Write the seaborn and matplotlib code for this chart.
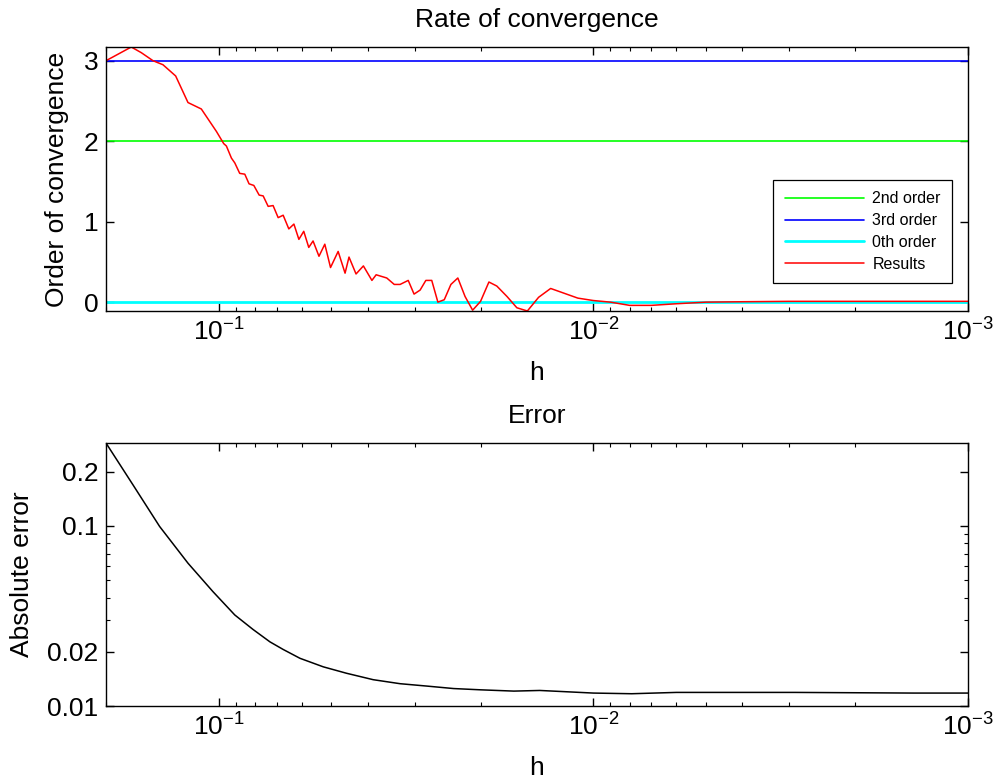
import numpy as np
import seaborn as sns
import matplotlib.pyplot as plt
from matplotlib.ticker import LogLocator, NullFormatter, FixedLocator, FixedFormatter

# --- data ---
h_rate = [0.2000, 0.1910, 0.1712, 0.1610, 0.1498, 0.1409, 0.1303, 0.1208, 0.1113, 0.1014,
          0.0970, 0.0954, 0.0925, 0.0906, 0.0879, 0.0852, 0.0830, 0.0806, 0.0780, 0.0761,
          0.0738, 0.0716, 0.0694, 0.0673, 0.0650, 0.0630, 0.0611, 0.0593, 0.0575, 0.0560,
          0.0540, 0.0521, 0.0503, 0.0480, 0.0460, 0.0449, 0.0430, 0.0411, 0.0390, 0.0380,
          0.0356, 0.0340, 0.0328, 0.0312, 0.0301, 0.0290, 0.0280, 0.0270, 0.0260, 0.0250,
          0.0240, 0.0230, 0.0220, 0.0210, 0.0200, 0.0190, 0.0181, 0.0170, 0.0160, 0.0150,
          0.0140, 0.0130, 0.0110, 0.0100, 0.0090, 0.0080, 0.0070, 0.0060, 0.0050, 0.0040,
          0.0030, 0.0020, 0.0010]
order_rate = [3.00, 3.05, 3.17, 3.10, 3.00, 2.95, 2.81, 2.48, 2.40, 2.12,
              1.97, 1.94, 1.79, 1.73, 1.60, 1.59, 1.47, 1.45, 1.33, 1.32,
              1.19, 1.20, 1.05, 1.08, 0.91, 0.97, 0.78, 0.88, 0.68, 0.76,
              0.57, 0.72, 0.43, 0.63, 0.36, 0.56, 0.35, 0.45, 0.27, 0.34,
              0.30, 0.22, 0.22, 0.27, 0.10, 0.15, 0.27, 0.27, 0.00, 0.03,
              0.22, 0.30, 0.07, -0.10, 0.01, 0.25, 0.20, 0.07, -0.07, -0.11,
              0.06, 0.17, 0.05, 0.02, 0.00, -0.04, -0.04, -0.02, 0.00, 0.005,
              0.01, 0.01, 0.01]

h_err = [0.2000, 0.1695, 0.1438, 0.1208, 0.1036, 0.0906, 0.0810, 0.0730, 0.0673, 0.0607,
         0.0526, 0.0456, 0.0387, 0.0328, 0.0278, 0.0236, 0.0200, 0.0163, 0.0139, 0.0118,
         0.0100, 0.0079, 0.0060, 0.0029, 0.0014, 0.0010]
abs_err = [0.288, 0.169, 0.0991, 0.0620, 0.0431, 0.0320, 0.0266, 0.0227, 0.0206, 0.0184,
           0.0165, 0.0152, 0.0140, 0.0133, 0.0129, 0.0125, 0.0123, 0.0121, 0.0122, 0.0120,
           0.0118, 0.0117, 0.0119, 0.0119, 0.0118, 0.0118]

ref_orders = [2, 3, 0]
ref_labels = ["2nd order", "3rd order", "0th order"]
ref_colors = ["#00ff00", "#0000ff", "#00ffff"]

err_ticks = [0.01, 0.02, 0.1, 0.2]
err_tick_labels = ["0.01", "0.02", "0.1", "0.2"]
err_minor = [0.03, 0.04, 0.05, 0.06, 0.07, 0.08, 0.09]

sns.set_theme(style="ticks")
plt.rcParams.update({
    "font.family": ["Liberation Sans", "DejaVu Sans"],
    "font.size": 19,
    "mathtext.default": "regular",
    "text.color": "black",
    "axes.labelcolor": "black",
    "axes.titlecolor": "black",
    "axes.linewidth": 1.0,
    "axes.edgecolor": "black",
    "xtick.direction": "in",
    "ytick.direction": "in",
    "xtick.top": True,
    "ytick.right": True,
    "xtick.color": "black",
    "ytick.color": "black",
    "xtick.labelcolor": "black",
    "ytick.labelcolor": "black",
})

fig = plt.figure(figsize=(9.95, 7.81), dpi=100)
ax1 = fig.add_axes([0.1065, 0.6018, 0.8663, 0.3380])
ax2 = fig.add_axes([0.1065, 0.0960, 0.8663, 0.3368])

# --- top: rate of convergence ---
for val, lab, col in zip(ref_orders, ref_labels, ref_colors):
    ax1.axhline(val, color=col, lw=2.0 if val == 0 else 1.2, label=lab)
sns.lineplot(x=h_rate, y=order_rate, ax=ax1, color="#ff0000", linewidth=1.1,
             label="Results", sort=False, estimator=None)
ax1.set_xscale("log")
ax1.set_xlim(0.2, 0.001)
ax1.set_ylim(min(order_rate), max(order_rate))
ax1.set_yticks([0, 1, 2, 3])
ax1.set_title("Rate of convergence", fontsize=19, pad=14.5)
ax1.set_xlabel("h", fontsize=19)
ax1.set_ylabel("Order of convergence", fontsize=19)
leg = ax1.legend(loc="lower right", bbox_to_anchor=(0.9814, 0.107), borderaxespad=0,
                 fontsize=11.5, handlelength=5, handletextpad=0.5, labelspacing=0.42,
                 borderpad=0.7, fancybox=False, framealpha=1, edgecolor="black")
leg.get_frame().set_linewidth(0.9)

# --- bottom: error ---
sns.lineplot(x=h_err, y=abs_err, ax=ax2, color="black", linewidth=1.1,
             sort=False, estimator=None)
ax2.set_xscale("log")
ax2.set_yscale("log")
ax2.set_xlim(0.2, 0.001)
ax2.set_ylim(0.01, max(abs_err))
ax2.yaxis.set_major_locator(FixedLocator(err_ticks))
ax2.yaxis.set_major_formatter(FixedFormatter(err_tick_labels))
ax2.yaxis.set_minor_locator(FixedLocator(err_minor))
ax2.yaxis.set_minor_formatter(NullFormatter())
ax2.set_title("Error", fontsize=19, pad=14.5)
ax2.set_xlabel("h", fontsize=19)
ax2.set_ylabel("Absolute error", fontsize=19)

for ax in (ax1, ax2):
    ax.xaxis.set_major_locator(LogLocator(base=10, numticks=10))
    ax.xaxis.set_minor_locator(LogLocator(base=10, subs=np.arange(2, 10), numticks=20))
    ax.xaxis.set_minor_formatter(NullFormatter())
    ax.tick_params(axis="x", which="major", length=5.5, width=1.0, pad=5, labelsize=19)
    ax.tick_params(axis="x", which="minor", length=2.8, width=0.8)
    ax.tick_params(axis="y", which="major", length=6, width=1.0, pad=5.5, labelsize=19)
    ax.tick_params(axis="y", which="minor", length=3, width=0.8)
    ax.xaxis.set_label_coords(0.5, -0.19)
    for s in ax.spines.values():
        s.set_visible(True)
        s.set_color("black")

ax1.yaxis.set_label_coords(-0.043, 0.5)
ax2.yaxis.set_label_coords(-0.084, 0.5)

fig.savefig("out.png", dpi=100)
